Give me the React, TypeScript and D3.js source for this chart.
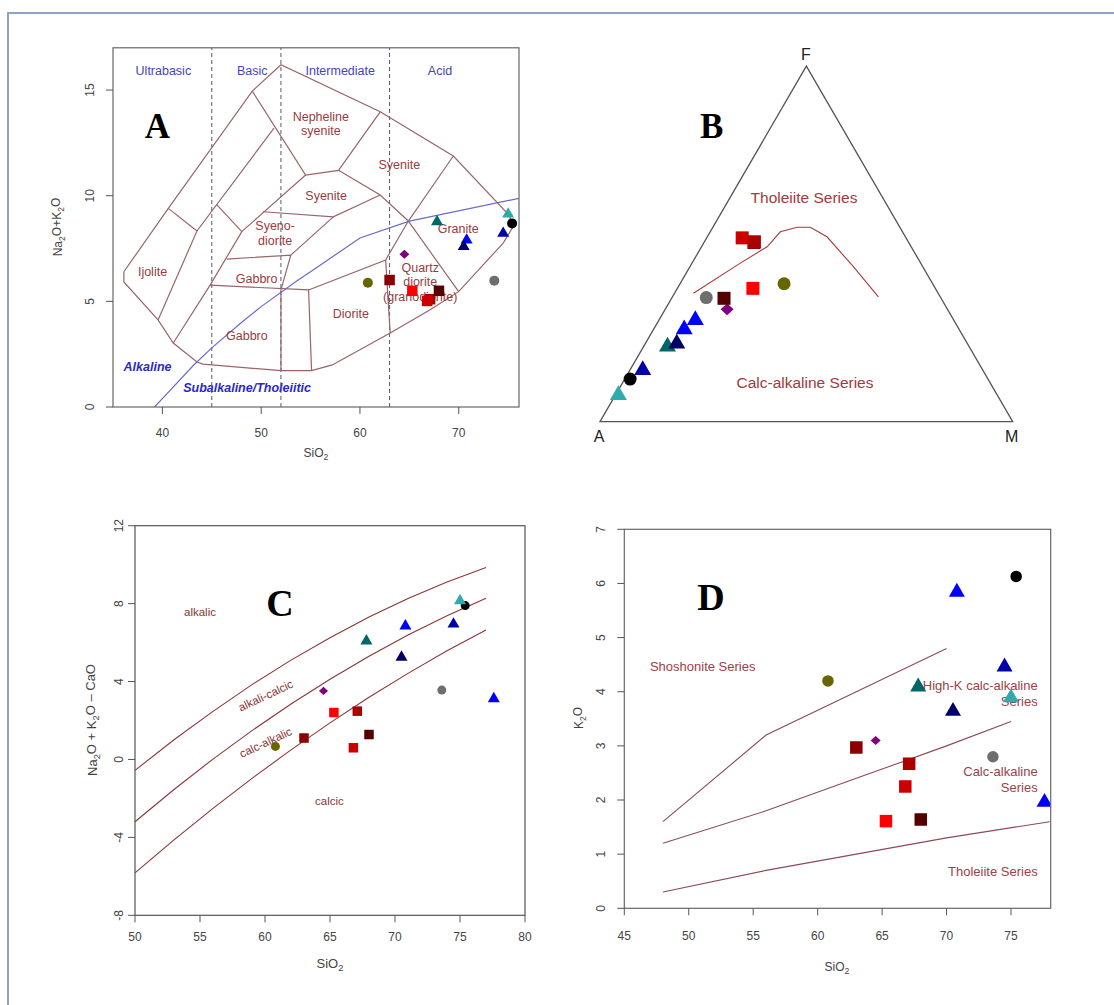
import React from "react";
import * as d3 from "d3";

// ---- samples, same order in every panel ----
const sampleColours = [
  "#000000", "#0000ff", "#0000a8", "#666600", "#006666", "#33aaaa", "#000066", "#8b0000",
  "#800080", "#6e6e6e", "#aa0000", "#cc0000", "#0000ff", "#ff0000", "#550000",
];
const sampleShapes = [
  "circle", "triangle", "triangle", "circle", "triangle", "triangle", "triangle", "square",
  "diamond", "circle", "square", "square", "triangle", "square", "square",
];
const sio2 = [75.4, 70.8, 74.5, 60.8, 67.8, 75.0, 70.5, 63.0, 64.5, 73.6, 67.1, 66.8, 77.6, 65.3, 68.0];
// A: total alkalis (sample 13 lies beyond the SiO2 range of the TAS plot)
const totalAlkali = [8.69, 7.9, 8.22, 5.88, 8.77, 9.13, 7.59, 6.01, 7.23, 5.98, 5.1, 5.02, null, 5.5, 5.5];
// B: AFM percentages
const afmA = [86.7, 62.6, 82.4, 36.0, 73.1, 91.8, 70.4, 37.5, 53.4, 56.8, 37.3, 39.7, 66.6, 44.2, 52.6];
const afmF = [12.0, 28.6, 14.5, 38.8, 21.1, 7.5, 22.0, 50.4, 31.6, 34.9, 50.6, 51.7, 26.0, 37.5, 34.7];
const afmM = [1.3, 8.8, 3.1, 25.2, 5.8, 0.7, 7.6, 12.1, 15.0, 8.3, 12.1, 8.6, 7.4, 18.3, 12.7];
// C: MALI (Na2O+K2O-CaO)
const mali = [7.9, 6.85, 6.95, 0.67, 6.08, 8.15, 5.25, 1.1, 3.52, 3.56, 2.48, 0.6, 3.12, 2.41, 1.28];
// D: K2O
const k2o = [6.13, 5.84, 4.46, 4.2, 4.09, 3.89, 3.64, 2.97, 3.1, 2.8, 2.67, 2.25, 1.96, 1.61, 1.64];

// ---- A: TAS plutonic fields (SiO2, Na2O+K2O) ----
const tasOuter = [
  [36.1, 6.4], [40.6, 9.4], [49.1, 14.95], [52.0, 16.2], [62.05, 13.97], [69.45, 11.88],
  [74.9, 9.18], [75.6, 8.6], [74.5, 7.76], [69.99, 5.46], [67.1, 4.6], [63.06, 3.5],
  [57.2, 1.99], [55.1, 1.72], [52.0, 1.72], [44.1, 2.03], [43.5, 2.13], [41.1, 3.03],
  [39.56, 4.12], [36.1, 5.92], [36.1, 6.4],
];
const tasInner = [
  [[40.6, 9.4], [43.5, 8.33]],
  [[39.56, 4.12], [43.5, 8.33], [51.3, 13.2]],
  [[41.1, 3.03], [44.83, 5.77], [48.04, 8.3], [54.5, 10.98]],
  [[45.5, 9.58], [48.04, 8.3]],
  [[49.1, 14.95], [54.5, 10.98], [57.83, 11.2], [62.05, 13.97]],
  [[57.83, 11.2], [62.05, 10.03], [64.9, 8.8], [69.45, 11.88]],
  [[50.2, 9.24], [57.3, 9.0], [62.05, 10.03]],
  [[53.0, 7.19], [57.3, 9.0]],
  [[46.5, 7.0], [53.0, 7.19], [52.0, 5.54]],
  [[44.83, 5.77], [54.8, 5.54], [55.1, 1.72]],
  [[52.0, 5.54], [52.0, 1.72]],
  [[54.8, 5.54], [62.6, 6.96], [64.9, 8.8], [69.99, 5.46]],
  [[62.6, 6.96], [63.06, 3.5]],
];
const irvineBaragar = [
  [39.2, 0], [40, 0.4], [43.2, 2], [45, 2.8], [48, 4], [50, 4.75], [53.7, 6], [55, 6.4],
  [60, 8], [65, 8.8], [77.4, 10],
];
const silicaClassBreaks = [45, 52, 63];
const silicaClasses = [
  { text: "Ultrabasic", x: 40.1 }, { text: "Basic", x: 49.1 },
  { text: "Intermediate", x: 58.0 }, { text: "Acid", x: 68.1 },
];
const tasLabels = [
  { lines: ["Nepheline", "syenite"], x: 56.04, y: 13.55 },
  { lines: ["Syenite"], x: 63.98, y: 11.25 },
  { lines: ["Syenite"], x: 56.58, y: 9.8 },
  { lines: ["Syeno-", "diorite"], x: 51.41, y: 8.38 },
  { lines: ["Gabbro"], x: 49.54, y: 5.88 },
  { lines: ["Ijolite"], x: 39.0, y: 6.21 },
  { lines: ["Gabbro"], x: 48.55, y: 3.17 },
  { lines: ["Diorite"], x: 59.08, y: 4.2 },
  { lines: ["Quartz", "diorite", "(granodiorite)"], x: 66.1, y: 6.4 },
  { lines: ["Granite"], x: 69.95, y: 8.23 },
];

// ---- B: AFM boundary (A, F, M %) ----
const ibA = [59.3, 43.7, 34.9, 29.6, 24.9, 21.7, 19.0, 16.8, 15.0];
const ibF = [36.1, 44.6, 49.2, 53.4, 54.7, 54.7, 52.0, 43.6, 35.1];
const ibM = [4.6, 11.7, 15.9, 17.0, 20.4, 23.6, 29.0, 39.6, 49.9];

// ---- C: MALI boundaries (Frost et al. 2001) ----
const maliSilica = [50, 53, 56, 59, 62, 65, 68, 71, 74, 77];
const maliAlkalic = [-0.56, 1.01, 2.47, 3.84, 5.1, 6.25, 7.31, 8.26, 9.11, 9.85];
const maliAlkaliCalcic = [-3.2, -1.54, 0.02, 1.48, 2.85, 4.12, 5.3, 6.39, 7.38, 8.27];
const maliCalcAlkalic = [-5.82, -4.13, -2.51, -0.97, 0.49, 1.88, 3.19, 4.42, 5.58, 6.65];

// ---- D: K2O series (Peccerillo & Taylor 1976) ----
const shoshoniteLine = [[48, 1.6], [56, 3.2], [63, 4.0], [70, 4.8]];
const highKLine = [[48, 1.2], [56, 1.8], [63, 2.4], [70, 3.0], [75, 3.45]];
const tholeiiteLine = [[48, 0.3], [56, 0.7], [63, 1.0], [70, 1.3], [78, 1.6]];

const FONT = "'Liberation Sans', Arial, sans-serif";
const SERIF = "'Liberation Serif', 'Times New Roman', serif";
const AXIS = "#555";

type Sizes = { circle: number; square: number; triangle: number; diamond: number };

function Marker({ shape, x, y, sz, fill }: { shape: string; x: number; y: number; sz: Sizes; fill: string }) {
  if (shape === "circle") return <circle cx={x} cy={y} r={sz.circle / 2} fill={fill} />;
  if (shape === "square") {
    const s = sz.square;
    return <rect x={x - s / 2} y={y - s / 2} width={s} height={s} fill={fill} />;
  }
  if (shape === "triangle") {
    const s = sz.triangle;
    const h = s * 0.866;
    return <path d={`M${x},${y - (2 * h) / 3}L${x + s / 2},${y + h / 3}L${x - s / 2},${y + h / 3}Z`} fill={fill} />;
  }
  const s = sz.diamond;
  return <path d={`M${x},${y - s * 0.45}L${x + s / 2},${y}L${x},${y + s * 0.45}L${x - s / 2},${y}Z`} fill={fill} />;
}

function BottomTicks({ scale, ticks, y, labelY }: any) {
  return (
    <g>
      {ticks.map((t: number) => (
        <g key={t}>
          <line x1={scale(t)} x2={scale(t)} y1={y} y2={y + 7} stroke={AXIS} />
          <text x={scale(t)} y={labelY} textAnchor="middle" fontSize={12} fill="#444" fontFamily={FONT}>{t}</text>
        </g>
      ))}
    </g>
  );
}

function LeftTicks({ scale, ticks, x, labelX }: any) {
  return (
    <g>
      {ticks.map((t: number) => (
        <g key={t}>
          <line x1={x} x2={x - 7} y1={scale(t)} y2={scale(t)} stroke={AXIS} />
          <text transform={`translate(${labelX},${scale(t)}) rotate(-90)`} textAnchor="middle" dy="0.35em"
            fontSize={12} fill="#444" fontFamily={FONT}>{t}</text>
        </g>
      ))}
    </g>
  );
}

function Sub({ children }: any) {
  return <tspan fontSize="0.72em" dy="0.3em">{children}</tspan>;
}

export default function App() {
  // ---------- panel A ----------
  const xA = d3.scaleLinear().domain([35, 76.1]).range([113, 519]);
  const yA = d3.scaleLinear().domain([0, 17]).range([407, 47.8]);
  const lineA = d3.line<number[]>().x((d) => xA(d[0])).y((d) => yA(d[1]));
  const sizeA = { circle: 10, square: 10.5, triangle: 12, diamond: 10 };

  // ---------- panel B ----------
  const triLeft = 600, triRight = 1012.7, triBase = 421.7;
  const side = triRight - triLeft;
  const triTop = triBase - side * 0.8616;
  const tern = (a: number, f: number, m: number) => {
    const s = a + f + m;
    const fy = d3.scaleLinear().domain([0, 1]).range([triBase, triTop]);
    const x = triLeft * (a / s) + (triLeft + side / 2) * (f / s) + triRight * (m / s);
    return [x, fy(f / s)];
  };
  const ibPts = ibA.map((a, i) => tern(a, ibF[i], ibM[i]));
  const lineB = d3.line<number[]>().x((d) => d[0]).y((d) => d[1]);
  const sizeB = { circle: 13, square: 13, triangle: 17, diamond: 13 };

  // ---------- panel C ----------
  const xC = d3.scaleLinear().domain([50, 80]).range([135, 525]);
  const yC = d3.scaleLinear().domain([-8, 12]).range([915.3, 525.7]);
  const lineC = d3.line<number>().x((_, i) => xC(maliSilica[i])).y((d) => yC(d));
  const sizeC = { circle: 9, square: 9.5, triangle: 12, diamond: 9 };

  // ---------- panel D ----------
  const xD = d3.scaleLinear().domain([45, 78.08]).range([624.3, 1050.7]);
  const yD = d3.scaleLinear().domain([0, 7]).range([908.3, 529.3]);
  const lineD = d3.line<number[]>().x((d) => xD(d[0])).y((d) => yD(d[1]));
  const sizeD = { circle: 11.5, square: 12.5, triangle: 16, diamond: 10 };

  const brown = "#9b3b3b";

  return (
    <svg width={1114} height={1005} style={{ position: "absolute", left: 0, top: 0, background: "#fff" }}
      fontFamily={FONT}>
      <defs>
        <clipPath id="clipA"><rect x={113} y={47.8} width={406} height={359.2} /></clipPath>
        <clipPath id="clipD"><rect x={624.3} y={529.3} width={426.4} height={379} /></clipPath>
      </defs>
      <rect x={8} y={13} width={1120} height={1010} fill="none" stroke="#8fa3c4" strokeWidth={2} />

      {/* ===== A: TAS ===== */}
      <g>
        <g clipPath="url(#clipA)">
          {silicaClassBreaks.map((b) => (
            <line key={b} x1={xA(b)} x2={xA(b)} y1={yA(0)} y2={yA(17)} stroke="#55557a" strokeDasharray="4,3" />
          ))}
          <path d={lineA(tasOuter as any) || ""} fill="none" stroke="#9a6468" strokeWidth={1.2} />
          {tasInner.map((l, i) => (
            <path key={i} d={lineA(l as any) || ""} fill="none" stroke="#9a6468" strokeWidth={1.2} />
          ))}
          <path d={lineA(irvineBaragar as any) || ""} fill="none" stroke="#6a6ac8" strokeWidth={1.2} />
        </g>
        {silicaClasses.map((c) => (
          <text key={c.text} x={xA(c.x)} y={75} textAnchor="middle" fontSize={12.5} fill="#4545b5">{c.text}</text>
        ))}
        {tasLabels.map((l, i) => (
          <text key={i} x={xA(l.x)} y={yA(l.y)} textAnchor="middle" fontSize={12.5} fill={brown}>
            {l.lines.map((t, j) => (
              <tspan key={j} x={xA(l.x)} dy={j === 0 ? 0 : 14.7}>{t}</tspan>
            ))}
          </text>
        ))}
        <text x={xA(38.5)} y={yA(1.72)} textAnchor="middle" fontSize={12.5} fontWeight="bold" fontStyle="italic" fill="#2a2ac0">Alkaline</text>
        <text x={xA(48.58)} y={yA(0.72)} textAnchor="middle" fontSize={12.5} fontWeight="bold" fontStyle="italic" fill="#2a2ac0">Subalkaline/Tholeiitic</text>
        <g clipPath="url(#clipA)">
          {sio2.map((s, i) =>
            totalAlkali[i] == null ? null : (
              <Marker key={i} shape={sampleShapes[i]} x={xA(s)} y={yA(totalAlkali[i] as number)} sz={sizeA} fill={sampleColours[i]} />
            )
          )}
        </g>
        <rect x={113} y={47.8} width={406} height={359.2} fill="none" stroke="#666" strokeWidth={1.2} />
        <BottomTicks scale={xA} ticks={[40, 50, 60, 70]} y={407} labelY={436.5} />
        <LeftTicks scale={yA} ticks={[0, 5, 10, 15]} x={113} labelX={90} />
        <text x={316} y={457} textAnchor="middle" fontSize={12} fill="#444">SiO<Sub>2</Sub></text>
        <text transform="translate(62,227) rotate(-90)" textAnchor="middle" fontSize={12} fill="#444">
          Na<Sub>2</Sub><tspan dy="-0.3em">O+K</tspan><Sub>2</Sub><tspan dy="-0.3em">O</tspan>
        </text>
        <text x={157.5} y={138} textAnchor="middle" fontSize={35} fontWeight="bold" fontFamily={SERIF}>A</text>
      </g>

      {/* ===== B: AFM ===== */}
      <g>
        <path d={`M${triLeft},${triBase}L${triLeft + side / 2},${triTop}L${triRight},${triBase}Z`} fill="none" stroke="#555" strokeWidth={1.3} />
        <path d={lineB(ibPts) || ""} fill="none" stroke="#a83a3a" strokeWidth={1.1} />
        <text x={806} y={60} textAnchor="middle" fontSize={16} fill="#222">F</text>
        <text x={599} y={442} textAnchor="middle" fontSize={16} fill="#222">A</text>
        <text x={1011.7} y={442} textAnchor="middle" fontSize={16} fill="#222">M</text>
        <text x={804} y={203} textAnchor="middle" fontSize={15.5} fill="#a3393b">Tholeiite Series</text>
        <text x={805} y={388} textAnchor="middle" fontSize={15.5} fill="#a3393b">Calc-alkaline Series</text>
        {afmA.map((a, i) => {
          const [x, y] = tern(a, afmF[i], afmM[i]);
          return <Marker key={i} shape={sampleShapes[i]} x={x} y={y} sz={sizeB} fill={sampleColours[i]} />;
        })}
        <text x={711.7} y={138} textAnchor="middle" fontSize={35} fontWeight="bold" fontFamily={SERIF}>B</text>
      </g>

      {/* ===== C: MALI ===== */}
      <g>
        {[maliAlkalic, maliAlkaliCalcic, maliCalcAlkalic].map((s, i) => (
          <path key={i} d={lineC(s) || ""} fill="none" stroke="#8b3535" strokeWidth={1.1} />
        ))}
        <text x={xC(55)} y={yC(7.37)} textAnchor="middle" fontSize={11.5} fill="#8b3535">alkalic</text>
        <text transform={`translate(${xC(60.05)},${yC(3.28)}) rotate(-25)`} textAnchor="middle" dy="0.35em" fontSize={11.5} fill="#8b3535">alkali-calcic</text>
        <text transform={`translate(${xC(60.05)},${yC(0.87)}) rotate(-25)`} textAnchor="middle" dy="0.35em" fontSize={11.5} fill="#8b3535">calc-alkalic</text>
        <text x={xC(64.96)} y={yC(-2.35)} textAnchor="middle" fontSize={11.5} fill="#8b3535">calcic</text>
        {sio2.map((s, i) => (
          <Marker key={i} shape={sampleShapes[i]} x={xC(s)} y={yC(mali[i])} sz={sizeC} fill={sampleColours[i]} />
        ))}
        <rect x={135} y={525.7} width={390} height={389.6} fill="none" stroke="#555" strokeWidth={1.2} />
        <BottomTicks scale={xC} ticks={[50, 55, 60, 65, 70, 75, 80]} y={915.3} labelY={941} />
        <LeftTicks scale={yC} ticks={[-8, -4, 0, 4, 8, 12]} x={135} labelX={119} />
        <text x={330} y={968} textAnchor="middle" fontSize={13} fill="#444">SiO<Sub>2</Sub></text>
        <text transform="translate(97,720) rotate(-90)" textAnchor="middle" fontSize={13} fill="#444">
          Na<Sub>2</Sub><tspan dy="-0.3em">O + K</tspan><Sub>2</Sub><tspan dy="-0.3em">O – CaO</tspan>
        </text>
        <text x={280} y={616} textAnchor="middle" fontSize={38} fontWeight="bold" fontFamily={SERIF}>C</text>
      </g>

      {/* ===== D: K2O vs SiO2 ===== */}
      <g>
        <g clipPath="url(#clipD)">
          {[shoshoniteLine, highKLine, tholeiiteLine].map((l, i) => (
            <path key={i} d={lineD(l as any) || ""} fill="none" stroke="#8c4a55" strokeWidth={1.1} />
          ))}
        </g>
        <text x={xD(46.99)} y={yD(4.38)} fontSize={13} fill="#a04048">Shoshonite Series</text>
        <text x={xD(77.07)} y={yD(4.03)} textAnchor="end" fontSize={13} fill="#a04048">High-K calc-alkaline</text>
        <text x={xD(77.07)} y={yD(3.74)} textAnchor="end" fontSize={13} fill="#a04048">Series</text>
        <text x={xD(77.07)} y={yD(2.44)} textAnchor="end" fontSize={13} fill="#a04048">Calc-alkaline</text>
        <text x={xD(77.07)} y={yD(2.15)} textAnchor="end" fontSize={13} fill="#a04048">Series</text>
        <text x={xD(77.07)} y={yD(0.6)} textAnchor="end" fontSize={13} fill="#a04048">Tholeiite Series</text>
        <g clipPath="url(#clipD)">
          {sio2.map((s, i) => (
            <Marker key={i} shape={sampleShapes[i]} x={xD(s)} y={yD(k2o[i])} sz={sizeD} fill={sampleColours[i]} />
          ))}
        </g>
        <rect x={624.3} y={529.3} width={426.4} height={379} fill="none" stroke="#666" strokeWidth={1.2} />
        <BottomTicks scale={xD} ticks={[45, 50, 55, 60, 65, 70, 75]} y={908.3} labelY={939.5} />
        <LeftTicks scale={yD} ticks={[0, 1, 2, 3, 4, 5, 6, 7]} x={624.3} labelX={601} />
        <text x={837} y={971} textAnchor="middle" fontSize={12} fill="#444">SiO<Sub>2</Sub></text>
        <text transform="translate(583,718) rotate(-90)" textAnchor="middle" fontSize={12} fill="#444">
          K<Sub>2</Sub><tspan dy="-0.3em">O</tspan>
        </text>
        <text x={711} y={610} textAnchor="middle" fontSize={38} fontWeight="bold" fontFamily={SERIF}>D</text>
      </g>
    </svg>
  );
}
